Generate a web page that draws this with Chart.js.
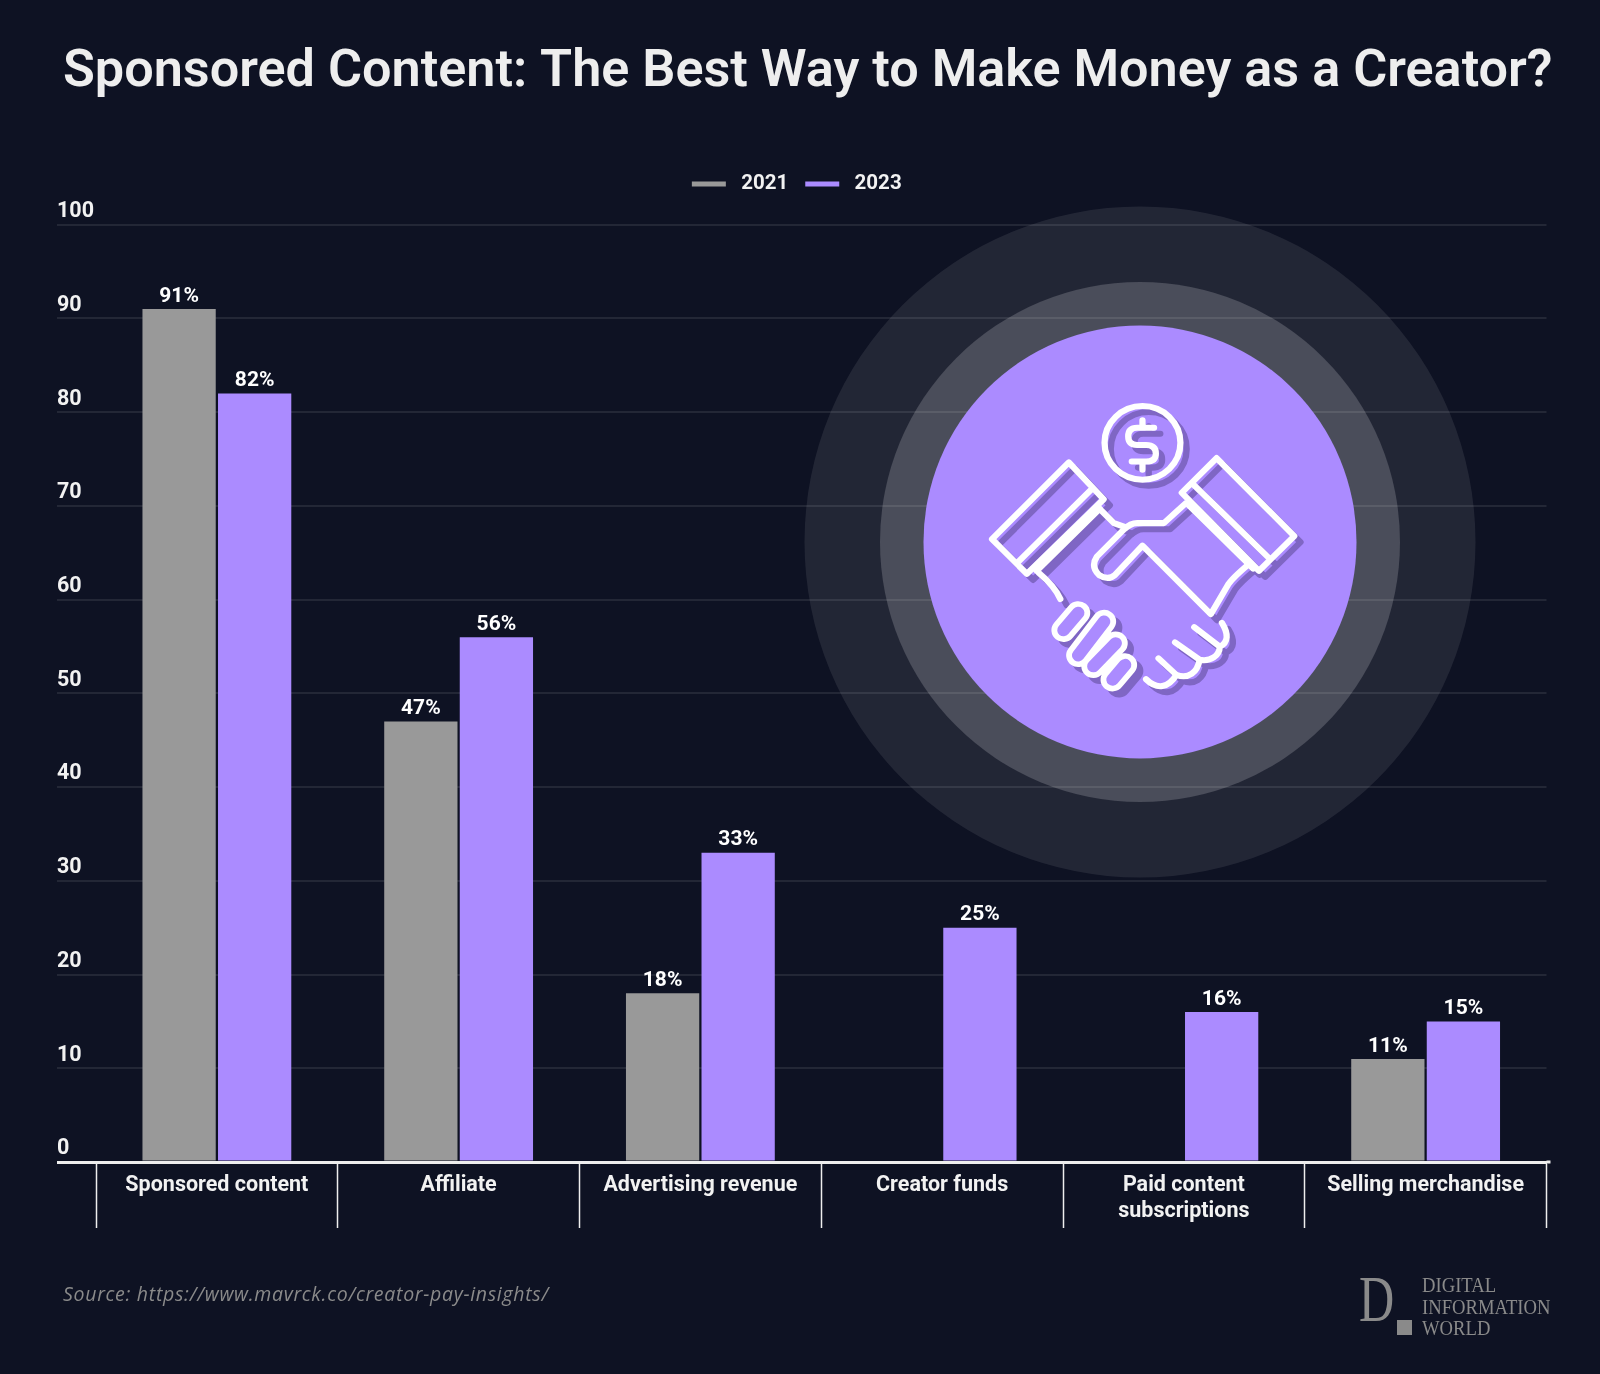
<!DOCTYPE html>
<html>
<head>
<meta charset="utf-8">
<script src="https://cdn.jsdelivr.net/npm/chart.js@4"></script>
<style>
html, body { margin: 0; background: #0e1223; }
#wrap { position: relative; width: 1600px; height: 1374px; overflow: hidden; }
#chart { position: absolute; left: 0; top: 0; }
#badge { position: absolute; left: 0; top: 0; pointer-events: none; }
#source { position: absolute; left: 63px; top: 1280px; font: italic 19.5px "Open Sans", sans-serif; color: #8a8a8a; letter-spacing: .7px; }
.logo { position: absolute; font-family: "Liberation Serif", serif; color: #8a8a8a; white-space: nowrap; transform-origin: left top; }
</style>
</head>
<body>
<div id="wrap">
  <canvas id="chart" width="1600" height="1374"></canvas>
  <svg id="badge" width="1600" height="1374">
    <circle cx="1140" cy="542" r="335.5" fill="rgba(255,255,255,.085)"/>
    <circle cx="1140" cy="542" r="260" fill="rgba(255,255,255,.18)"/>
    <circle cx="1140" cy="542" r="216.5" fill="#ab8bff"/>
    <!-- handshake icon, coordinates from the zoomed crop -->
    <defs>
      <g id="hands" fill="none" stroke-width="14" stroke-linecap="round" stroke-linejoin="round">
        <circle cx="812" cy="560" r="85"/>
        <path d="M838 525H800Q780 525 780 545Q780 565 800 565H820Q842 565 842 585Q842 603 820 603H788M812 508V525M812 603V622"/>
        <path d="M647 605L475 782L553 862L725 690ZM697 668L533 835M716 712L575 855"/>
        <path d="M580 860Q615 890 628 920M716 712L748 745L775 755"/>
        <path d="M978 595L1152 775L1073 855L900 675ZM925 655L1095 825M912 700L1060 850"/>
        <path d="M908 700L860 745H800Q785 745 770 760L710 822Q695 845 715 865Q735 878 750 865L812 797L965 955L1005 885Q1015 870 1052 838"/>
        <path d="M820 1105C845 1130 870 1125 888 1095L848 1057M888 1095C915 1105 935 1090 940 1060L885 1020M940 1060C965 1065 985 1050 985 1030L928 985M985 1030C1005 1020 1005 1000 990 975"/>
      </g>
      <g id="fingers" stroke-linecap="round" fill="none">
        <path d="M635 992L668 952M668 1050L726 972M702 1075L752 1022M745 1106L773 1072"/>
      </g>
    </defs>
    <g transform="translate(780 200) scale(.4464 .4337)">
      <use href="#hands" x="14" y="14" stroke="#7f66c4"/>
      <use href="#fingers" x="14" y="14" stroke="#7f66c4" stroke-width="54"/>
      <use href="#fingers" stroke="#fff" stroke-width="54"/>
      <use href="#fingers" stroke="#ab8bff" stroke-width="28"/>
      <use href="#hands" stroke="#fff"/>
    </g>
  </svg>
  <div id="source">Source: https://www.mavrck.co/creator-pay-insights/</div>
  <div class="logo" style="left:1359px;top:1264px;font-size:65px;line-height:70px;transform:scaleX(.75)">D</div>
  <div class="logo" style="left:1397px;top:1320px;width:15px;height:15px;background:#8a8a8a"></div>
  <div class="logo" style="left:1422px;top:1275px;font-size:20.5px;line-height:21.5px;transform:scaleX(.91)">DIGITAL<br>INFORMATION<br>WORLD</div>
</div>
<script>
const chartTitle = 'Sponsored Content: The Best Way to Make Money as a Creator?';
const categories = ['Sponsored content', 'Affiliate', 'Advertising revenue', 'Creator funds', ['Paid content', 'subscriptions'], 'Selling merchandise'];
const values2021 = [91, 47, 18, null, null, 11];
const values2023 = [82, 56, 33, 25, 16, 15];
const grayBar = '#999999';
const purpleBar = '#ab8bff';
const textColor = '#f2f2f2';
const axisFont = { family: 'Roboto', size: 21.5, weight: '700', lineHeight: 1.23 };

// value labels above the bars, and the baseline's small overhang on the right
const barLabels = {
  id: 'barLabels',
  afterDatasetsDraw(chart) {
    const ctx = chart.ctx;
    ctx.save();
    ctx.font = '700 21px Roboto';
    ctx.fillStyle = '#ffffff';
    ctx.textAlign = 'center';
    ctx.textBaseline = 'bottom';
    chart.data.datasets.forEach((ds, i) => {
      chart.getDatasetMeta(i).data.forEach((bar, j) => {
        if (ds.data[j] === null) return;
        ctx.fillText(ds.data[j] + '%', bar.x, bar.y - 2);
      });
    });
    const zero = chart.scales.y.getPixelForValue(0);
    ctx.fillStyle = '#eeeeee';
    ctx.fillRect(chart.chartArea.right, zero - 1.5, 4, 3);
    ctx.restore();
  }
};

// gap under the legend, and small sideways nudges for legend and title
const legendPlace = {
  id: 'legendPlace',
  beforeInit(chart) {
    const fit = chart.legend.fit;
    chart.legend.fit = function () {
      fit.call(this);
      this.height += 20.5;
    };
  },
  afterLayout(chart) {
    chart.legend.left -= 5;
    chart.legend.right -= 5;
    chart.titleBlock.left += 6;
    chart.titleBlock.right += 6;
  }
};

new Chart(document.getElementById('chart'), {
  type: 'bar',
  data: {
    labels: categories,
    datasets: [
      { label: '2021', data: values2021, backgroundColor: grayBar, categoryPercentage: 0.625, barPercentage: 0.97 },
      { label: '2023', data: values2023, backgroundColor: purpleBar, categoryPercentage: 0.625, barPercentage: 0.97 }
    ]
  },
  plugins: [barLabels, legendPlace],
  options: {
    responsive: false,
    devicePixelRatio: 1,
    animation: false,
    layout: { padding: { left: 57, right: 53.5, top: 42, bottom: 146 } },
    plugins: {
      title: {
        display: true,
        text: chartTitle,
        color: '#eeeeee',
        font: { family: 'Roboto', size: 52.3, weight: '600' },
        padding: { top: 0, bottom: 52 }
      },
      legend: {
        position: 'top',
        labels: {
          boxWidth: 34,
          boxHeight: 5,
          padding: 17,
          color: textColor,
          font: { family: 'Roboto', size: 20.5, weight: '700' },
          // one space widens the gap between swatch and year
          generateLabels(chart) {
            return Chart.defaults.plugins.legend.labels.generateLabels(chart).map(item => ({ ...item, text: ' ' + item.text, lineWidth: 0 }));
          }
        }
      },
      tooltip: { enabled: false }
    },
    scales: {
      x: {
        afterFit(scale) { scale.height = 66; },
        border: { color: '#eeeeee', width: 3 },
        grid: { drawOnChartArea: false, tickLength: 66, tickColor: '#eeeeee', tickWidth: 1.5, offset: true },
        ticks: { color: textColor, font: axisFont, padding: -56, maxRotation: 0, autoSkip: false }
      },
      y: {
        min: 0,
        max: 100,
        afterFit(scale) { scale.width = 39; },
        border: { display: false },
        grid: {
          tickLength: 39,
          color: c => c.tick.value === 0 ? '#eeeeee' : 'rgba(255,255,255,.09)',
          tickColor: c => c.tick.value === 0 ? '#eeeeee' : 'rgba(255,255,255,.09)',
          lineWidth: c => c.tick.value === 0 ? 3 : 2
        },
        ticks: { stepSize: 10, color: textColor, font: axisFont, crossAlign: 'far', labelOffset: -13, padding: 0 }
      }
    }
  }
});
</script>
</body>
</html>
